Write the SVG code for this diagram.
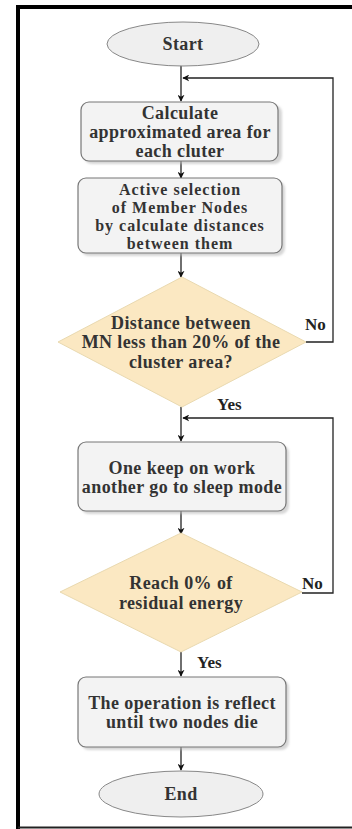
<svg xmlns="http://www.w3.org/2000/svg" width="352" height="829" viewBox="0 0 352 829">
<style>
.t{font-family:"Liberation Serif","Times New Roman",serif;font-weight:bold;font-size:18px;letter-spacing:0.4px;fill:#333;text-anchor:middle}
.t2{font-family:"Liberation Serif","Times New Roman",serif;font-weight:bold;font-size:16px;letter-spacing:1px;fill:#333;text-anchor:middle}
.lbl{font-family:"Liberation Serif","Times New Roman",serif;font-weight:bold;font-size:17px;fill:#222}
.box{fill:#f3f3f3;stroke:#777;stroke-width:1.2}
.dia{fill:#fbe8c2;stroke:#e9d9b0;stroke-width:1}
.sh{fill:#bbb;opacity:0.6}
.ln{fill:none;stroke:#222;stroke-width:1.3}
</style>
<defs>
<marker id="ah" viewBox="0 0 10 10" refX="9" refY="5" markerWidth="7" markerHeight="7" orient="auto" markerUnits="userSpaceOnUse">
<path d="M0,0 L10,5 L0,10 L3,5 z" fill="#111"/>
</marker>
<filter id="blur" x="-10%" y="-10%" width="120%" height="120%"><feGaussianBlur stdDeviation="1.2"/></filter>
</defs>
<rect x="0" y="0" width="352" height="829" fill="#fff"/>
<path d="M18,829 V7 H352" fill="none" stroke="#000" stroke-width="4"/>
<line x1="18" y1="827.5" x2="352" y2="827.5" stroke="#222" stroke-width="2"/>

<g id="connectors">
<line class="ln" x1="181" y1="65" x2="181" y2="101" marker-end="url(#ah)"/>
<line class="ln" x1="181" y1="161" x2="181" y2="178" marker-end="url(#ah)"/>
<line class="ln" x1="181" y1="253" x2="181" y2="277" marker-end="url(#ah)"/>
<polyline class="ln" points="306,342 333,342 333,78 183,78" marker-end="url(#ah)"/>
<line class="ln" x1="181" y1="407" x2="181" y2="441" marker-end="url(#ah)"/>
<polyline class="ln" points="302,593 333,593 333,418 183,418" marker-end="url(#ah)"/>
<line class="ln" x1="181" y1="511" x2="181" y2="534" marker-end="url(#ah)"/>
<line class="ln" x1="181" y1="652" x2="181" y2="676" marker-end="url(#ah)"/>
<line class="ln" x1="181" y1="747" x2="181" y2="770" marker-end="url(#ah)"/>
<text class="lbl" x="305" y="330">No</text>
<text class="lbl" x="217" y="410">Yes</text>
<text class="lbl" x="302" y="589">No</text>
<text class="lbl" x="197" y="668">Yes</text>
</g>

<g id="start">
<ellipse cx="183" cy="44" rx="76" ry="22" fill="#efefef" stroke="#888" stroke-width="1"/>
<text class="t" x="183" y="50">Start</text>
</g>

<g id="calc-area">
<rect class="sh" x="84" y="105" width="198" height="59" rx="8" filter="url(#blur)"/>
<rect class="box" x="81" y="102" width="197" height="59" rx="8"/>
<text class="t" x="180" y="119">Calculate</text>
<text class="t" x="180" y="138">approximated area for</text>
<text class="t" x="180" y="157">each cluter</text>
</g>

<g id="active-selection">
<rect class="sh" x="81" y="181" width="204" height="75" rx="8" filter="url(#blur)"/>
<rect class="box" x="78" y="178" width="204" height="75" rx="8"/>
<text class="t2" x="180" y="195">Active selection</text>
<text class="t2" x="180" y="213">of Member Nodes</text>
<text class="t2" x="180" y="231">by calculate distances</text>
<text class="t2" x="180" y="249">between them</text>
</g>

<g id="decision-distance">
<polygon class="dia" points="182,277 306,342 182,407 58,342"/>
<text class="t" x="181" y="329">Distance between</text>
<text class="t" x="181" y="348">MN less than 20% of the</text>
<text class="t" x="181" y="368">cluster area?</text>
</g>

<g id="sleep-mode">
<rect class="sh" x="81" y="445" width="208" height="69" rx="8" filter="url(#blur)"/>
<rect class="box" x="78" y="442" width="208" height="69" rx="8"/>
<text class="t" x="182" y="474">One keep on work</text>
<text class="t" x="182" y="493">another go to sleep mode</text>
</g>

<g id="decision-energy">
<polygon class="dia" points="181,533 302,592 181,652 60,592"/>
<text class="t" x="181" y="589">Reach 0% of</text>
<text class="t" x="181" y="609">residual energy</text>
</g>

<g id="reflect">
<rect class="sh" x="81" y="680" width="208" height="70" rx="8" filter="url(#blur)"/>
<rect class="box" x="78" y="677" width="208" height="70" rx="8"/>
<text class="t" x="182" y="709">The operation is reflect</text>
<text class="t" x="182" y="728">until two nodes die</text>
</g>

<g id="end">
<ellipse cx="181" cy="794" rx="82" ry="23" fill="#efefef" stroke="#888" stroke-width="1"/>
<text class="t" x="181" y="800">End</text>
</g>
</svg>
